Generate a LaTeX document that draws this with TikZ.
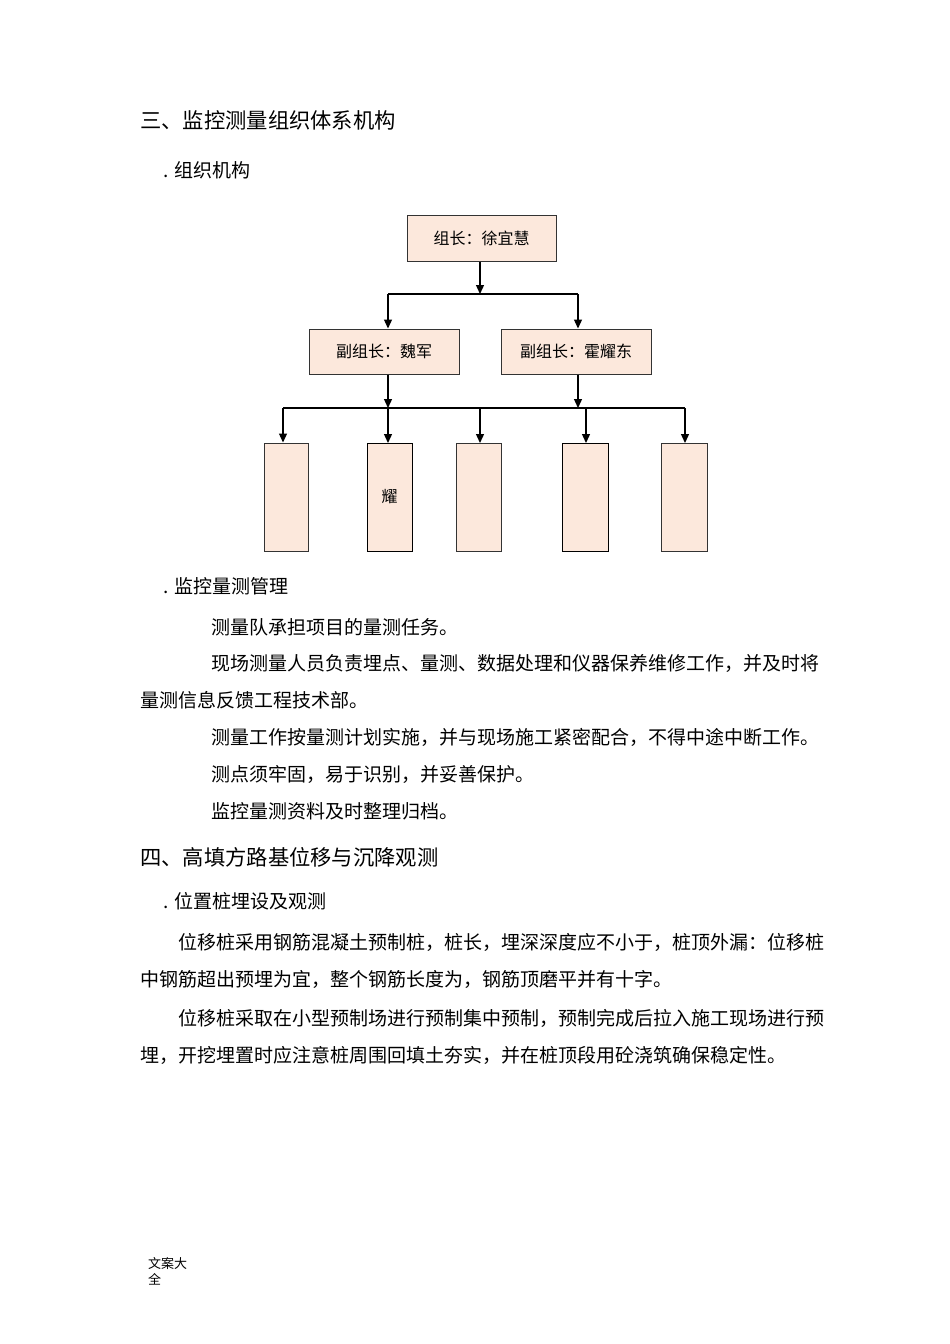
\documentclass[tikz,border=0pt]{standalone}
\usepackage{fontspec}
\setmainfont{Noto Sans CJK SC}
\usetikzlibrary{arrows.meta}
\begin{document}
\begin{tikzpicture}[x=1pt,y=-1pt,
 box/.style={draw=black!80,fill={rgb,255:red,252;green,232;blue,220},line width=1pt,inner sep=0pt,font=\fontsize{16}{16}\selectfont},
 arr/.style={-{Triangle[length=9pt,width=8pt]},line width=1.3pt},
 ln/.style={line width=1.3pt},
 txt/.style={anchor=west,inner sep=0pt,font=\fontsize{19}{19}\selectfont},
 hd/.style={anchor=west,inner sep=0pt,font=\fontsize{21.3}{21}\selectfont}]
\useasboundingbox (0,0) rectangle (950,1344);
\fill[white] (0,0) rectangle (950,1344);
\node[hd] (h1) at (140,120) {三、监控测量组织体系机构};
\node[txt] (s1) at (163,170) {. 组织机构};
% chart
\node[box,minimum width=149,minimum height=46] (top) at (481.5,238) {组长：徐宜慧};
\node[box,minimum width=150,minimum height=45] (ml) at (384,351.5) {副组长：魏军};
\node[box,minimum width=150,minimum height=45] (mr) at (576,351.5) {副组长：霍耀东};
\coordinate (j1) at (480,294);
\coordinate (j1l) at (388,294);
\coordinate (j1r) at (578,294);
\draw[arr] (top.south -| j1) -- (j1);
\draw[ln] (j1l) -- (j1r);
\draw[arr] (j1l) -- (j1l |- ml.north);
\draw[arr] (j1r) -- (j1r |- mr.north);
\node[box,minimum width=44,minimum height=108] (b1) at (286,497) {};
\node[box,minimum width=45,minimum height=108,draw=black] (b2) at (389.5,497) {耀};
\node[box,minimum width=45,minimum height=108] (b3) at (478.5,497) {};
\node[box,minimum width=46,minimum height=108,draw=black] (b4) at (585,497) {};
\node[box,minimum width=46,minimum height=108] (b5) at (684,497) {};
\coordinate (jl) at (388,408);
\coordinate (jr) at (578,408);
\draw[arr] (ml.south -| jl) -- (jl);
\draw[arr] (mr.south -| jr) -- (jr);
\coordinate (la) at (283,408);
\coordinate (lb) at (685,408);
\draw[ln] (la) -- (lb);
\draw[arr] (la) -- (la |- b1.north);
\draw[arr] (388,408) -- (388,443);
\draw[arr] (480,408) -- (480,443);
\draw[arr] (586,408) -- (586,443);
\draw[arr] (685,408) -- (685,443);
% text
\node[txt] (s2) at (163,586) {. 监控量测管理};
\node[txt] (p1) at (211,627) {测量队承担项目的量测任务。};
\node[txt] (p2) at (211,663) {现场测量人员负责埋点、量测、数据处理和仪器保养维修工作，并及时将};
\node[txt] (p3) at (140,700) {量测信息反馈工程技术部。};
\node[txt] (p4) at (211,737) {测量工作按量测计划实施，并与现场施工紧密配合，不得中途中断工作。};
\node[txt] (p5) at (211,774) {测点须牢固，易于识别，并妥善保护。};
\node[txt] (p6) at (211,811) {监控量测资料及时整理归档。};
\node[hd] (h2) at (140,857) {四、高填方路基位移与沉降观测};
\node[txt] (s3) at (163,901) {. 位置桩埋设及观测};
\node[txt] (q1) at (178,942) {位移桩采用钢筋混凝土预制桩，桩长，埋深深度应不小于，桩顶外漏：位移桩};
\node[txt] (q2) at (140,979) {中钢筋超出预埋为宜，整个钢筋长度为，钢筋顶磨平并有十字。};
\node[txt] (q3) at (178,1018) {位移桩采取在小型预制场进行预制集中预制，预制完成后拉入施工现场进行预};
\node[txt] (q4) at (140,1055) {埋，开挖埋置时应注意桩周围回填土夯实，并在桩顶段用砼浇筑确保稳定性。};
\node[anchor=north west,inner sep=0pt,align=left,font=\fontsize{13}{16}\selectfont] (f) at (148,1257) {文案大\\全};
\end{tikzpicture}
\end{document}
